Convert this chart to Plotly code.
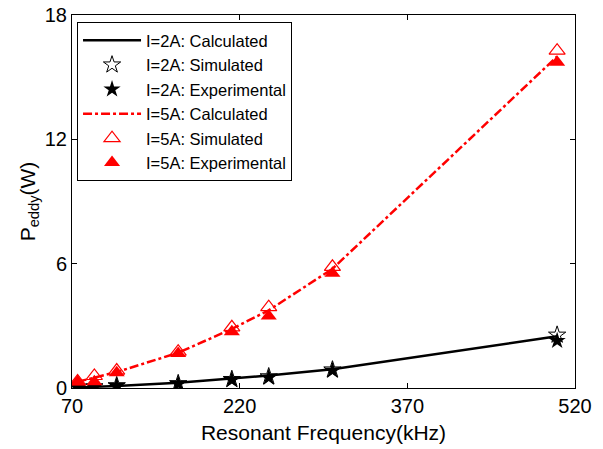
import plotly.graph_objects as go

freq = [75, 90, 110, 165, 213, 246, 303, 504]
calc_2A = [0.03, 0.06, 0.1, 0.25, 0.45, 0.6, 0.9, 2.5]
sim_2A = [0.04, 0.07, 0.12, 0.22, 0.42, 0.55, 0.88, 2.56]
exp_2A = [0.03, 0.06, 0.1, 0.2, 0.39, 0.5, 0.84, 2.28]
calc_5A = [0.3, 0.5, 0.77, 1.7, 2.85, 3.75, 5.75, 16.0]
sim_5A = [0.32, 0.58, 0.84, 1.75, 2.93, 3.9, 5.85, 16.28]
exp_5A = [0.3, 0.3, 0.74, 1.67, 2.72, 3.48, 5.54, 15.72]

x_ticks = [70, 220, 370, 520]
y_ticks = [0, 6, 12, 18]

FONT = "Liberation Sans, Arial, sans-serif"

fig = go.Figure()
fig.add_trace(go.Scatter(x=freq, y=calc_2A, mode="lines", name="I=2A: Calculated",
                         line=dict(color="black", width=2.5)))
fig.add_trace(go.Scatter(x=freq, y=sim_2A, mode="markers", name="I=2A: Simulated",
                         marker=dict(symbol="star-open", size=13, color="black", line=dict(width=1))))
fig.add_trace(go.Scatter(x=freq, y=exp_2A, mode="markers", name="I=2A: Experimental",
                         marker=dict(symbol="star", size=13, color="black")))
fig.add_trace(go.Scatter(x=freq, y=calc_5A, mode="lines", name="I=5A: Calculated",
                         line=dict(color="red", width=2.5, dash="dashdot")))
fig.add_trace(go.Scatter(x=freq, y=sim_5A, mode="markers", name="I=5A: Simulated",
                         marker=dict(symbol="triangle-up-open", size=14, color="red", line=dict(width=1.2))))
fig.add_trace(go.Scatter(x=freq, y=exp_5A, mode="markers", name="I=5A: Experimental",
                         marker=dict(symbol="triangle-up", size=14, color="red")))

axis_common = dict(showline=True, linecolor="black", linewidth=1, mirror="ticks",
                   ticks="inside", ticklen=5, tickcolor="black", showgrid=False,
                   zeroline=False, tickfont=dict(family=FONT, size=20, color="black"))

fig.update_layout(
    width=603, height=449,
    margin=dict(l=72, r=28, t=15, b=61, autoexpand=False),
    paper_bgcolor="white", plot_bgcolor="white",
    font=dict(family=FONT, color="black"),
    xaxis=dict(range=[70, 520], tickvals=x_ticks, ticktext=[str(v) for v in x_ticks],
               title=dict(text="Resonant Frequency(kHz)", font=dict(family=FONT, size=21), standoff=9),
               automargin=False, **axis_common),
    yaxis=dict(range=[0, 18], tickvals=y_ticks, ticktext=[str(v) for v in y_ticks],
               title=dict(text="P<sub>eddy</sub>(W)", font=dict(family=FONT, size=21), standoff=3),
               automargin=False, **axis_common),
    legend=dict(x=0.01, y=0.981, xanchor="left", yanchor="top",
                bgcolor="white", bordercolor="black", borderwidth=1,
                font=dict(family=FONT, size=16.5, color="black"),
                itemwidth=58,
                tracegroupgap=0),
    showlegend=True,
)

fig.write_html("out.html", config={"displayModeBar": False})

with open("out.html", "r", encoding="utf-8") as f:
    html = f.read()
html = html.replace("<head>", "<head><style>html,body{margin:0;padding:0;}</style>", 1)
with open("out.html", "w", encoding="utf-8") as f:
    f.write(html)
